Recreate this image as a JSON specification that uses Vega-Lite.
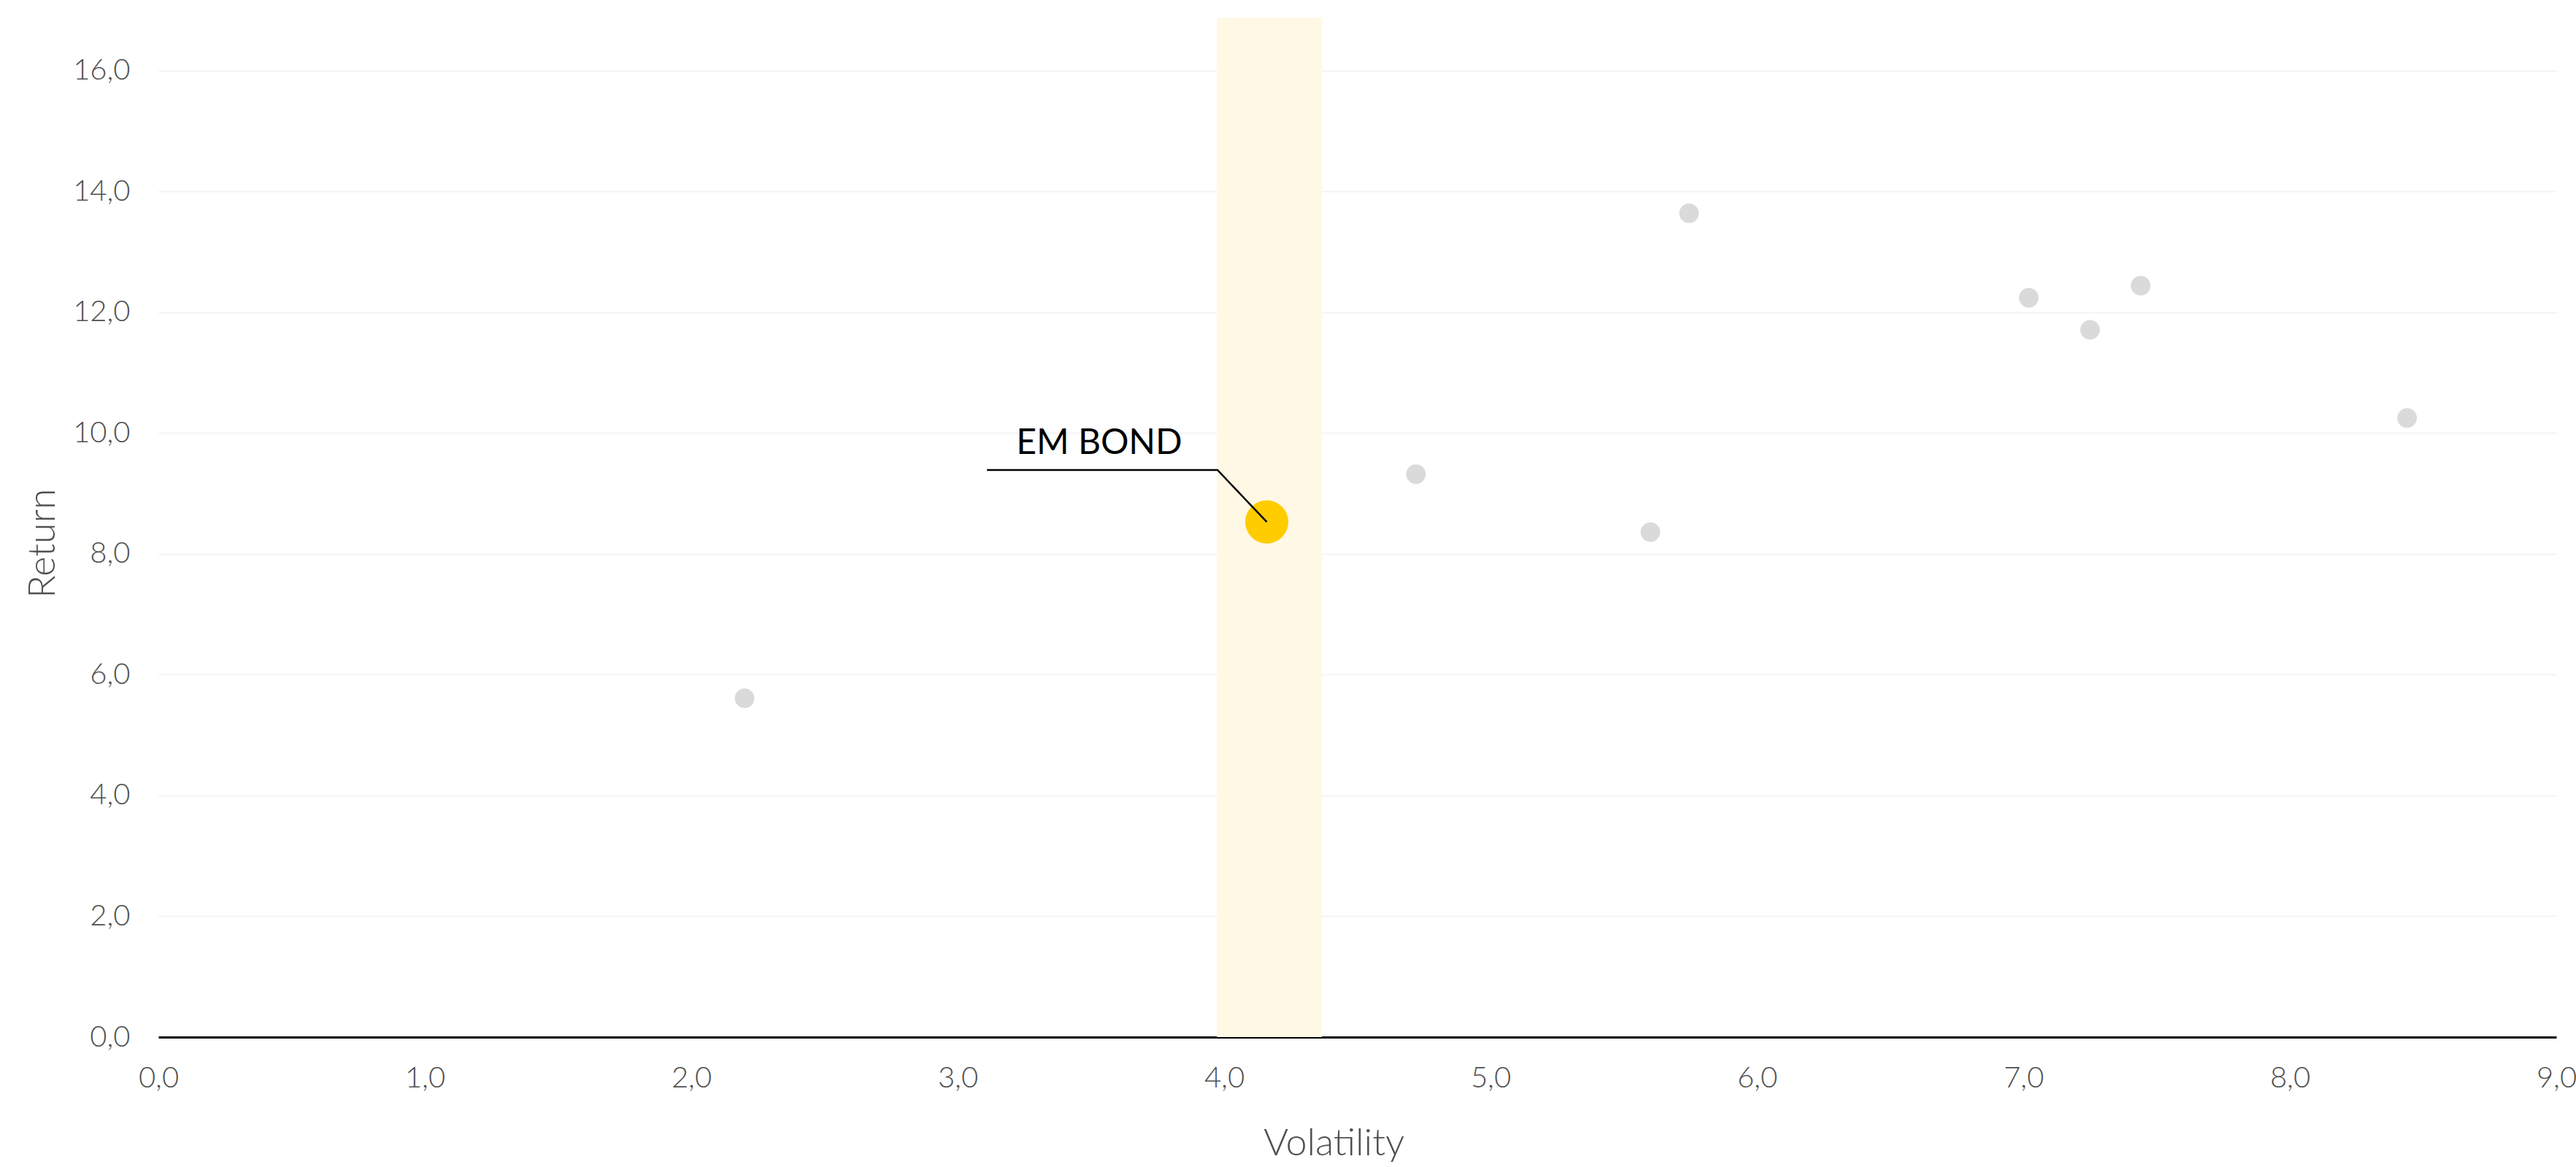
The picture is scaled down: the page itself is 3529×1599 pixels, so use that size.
{
  "$schema": "https://vega.github.io/schema/vega-lite/v6.json",
  "width": 3285,
  "height": 1397,
  "autosize": {"type": "none"},
  "padding": {"left": 217, "top": 24, "right": 27, "bottom": 178},
  "background": "white",
  "config": {
    "view": {"stroke": null},
    "font": "Lato",
    "axis": {
      "labelFont": "Lato",
      "titleFont": "Lato",
      "labelFontWeight": 300,
      "titleFontWeight": 300,
      "labelColor": "#505050",
      "titleColor": "#505050",
      "labelFontSize": 40,
      "titleFontSize": 52
    }
  },
  "datasets": {
    "band": [{"lo": 3.973, "hi": 4.367}],
    "assets": [
      {"name": "A", "volatility": 2.20, "return": 5.61},
      {"name": "B", "volatility": 4.72, "return": 9.32},
      {"name": "C", "volatility": 5.60, "return": 8.36},
      {"name": "D", "volatility": 5.745, "return": 13.64},
      {"name": "E", "volatility": 7.02, "return": 12.24},
      {"name": "F", "volatility": 7.25, "return": 11.71},
      {"name": "G", "volatility": 7.44, "return": 12.44},
      {"name": "H", "volatility": 8.44, "return": 10.25}
    ],
    "em": [{"name": "EM BOND", "volatility": 4.16, "return": 8.53}],
    "leader": [
      {"order": 1, "volatility": 3.11, "return": 9.39},
      {"order": 2, "volatility": 3.975, "return": 9.39},
      {"order": 3, "volatility": 4.16, "return": 8.53}
    ],
    "label": [{"text": "EM BOND", "volatility": 3.22, "return": 9.65}]
  },
  "layer": [
    {
      "data": {"name": "band"},
      "mark": {"type": "rect", "color": "#fff8e5"},
      "encoding": {
        "x": {
          "field": "lo",
          "type": "quantitative",
          "scale": {"domain": [0, 9], "nice": false, "zero": false},
          "axis": {
            "title": "Volatility",
            "values": [0, 1, 2, 3, 4, 5, 6, 7, 8, 9],
            "labelExpr": "replace(format(datum.value, '.1f'), '.', ',')",
            "grid": false,
            "ticks": false,
            "domain": true,
            "domainColor": "#000000",
            "domainWidth": 3,
            "labelPadding": 36,
            "labelFlush": false,
            "titlePadding": 44,
            "titleX": 1610
          }
        },
        "x2": {"field": "hi"}
      }
    },
    {
      "data": {"name": "assets"},
      "mark": {"type": "circle", "color": "#dadada", "opacity": 1, "size": 720},
      "encoding": {
        "x": {"field": "volatility", "type": "quantitative"},
        "y": {
          "field": "return",
          "type": "quantitative",
          "scale": {"domain": [0, 16.88], "nice": false, "zero": true},
          "axis": {
            "title": "Return",
            "values": [0, 2, 4, 6, 8, 10, 12, 14, 16],
            "labelExpr": "replace(format(datum.value, '.1f'), '.', ',')",
            "grid": true,
            "gridColor": "#f4f4f4",
            "gridWidth": 2,
            "ticks": false,
            "domain": false,
            "labelPadding": 39,
            "titlePadding": 14,
            "titleY": 720
          }
        }
      }
    },
    {
      "data": {"name": "em"},
      "mark": {"type": "circle", "color": "#ffcc00", "opacity": 1, "size": 3500},
      "encoding": {
        "x": {"field": "volatility", "type": "quantitative"},
        "y": {"field": "return", "type": "quantitative"}
      }
    },
    {
      "data": {"name": "leader"},
      "mark": {"type": "line", "color": "#000000", "strokeWidth": 2.5},
      "encoding": {
        "x": {"field": "volatility", "type": "quantitative"},
        "y": {"field": "return", "type": "quantitative"},
        "order": {"field": "order", "type": "quantitative"}
      }
    },
    {
      "data": {"name": "label"},
      "mark": {"type": "text", "align": "left", "baseline": "alphabetic", "fontSize": 48, "font": "Lato", "fontWeight": 400, "color": "#000000"},
      "encoding": {
        "x": {"field": "volatility", "type": "quantitative"},
        "y": {"field": "return", "type": "quantitative"},
        "text": {"field": "text"}
      }
    }
  ]
}
